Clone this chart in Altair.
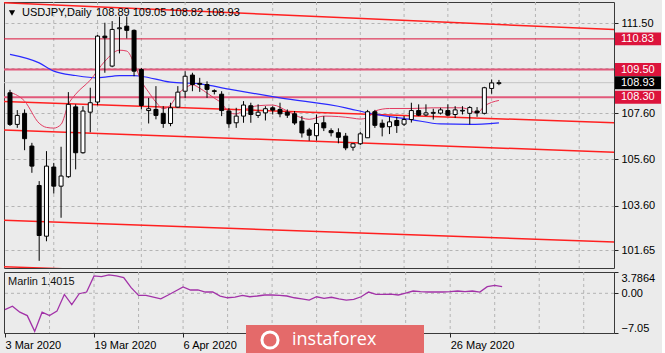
import altair as alt
import pandas as pd

# ---------------- data ----------------
BARS = list(range(68))
OPEN = [108.49,107.12,107.60,106.18,104.47,102.27,105.27,104.44,104.85,107.88,
        105.89,107.65,108.09,110.95,109.65,111.27,111.38,111.20,109.50,107.72,
        107.77,107.60,107.16,107.87,108.56,109.26,108.90,108.85,108.58,108.43,
        107.70,107.19,107.48,107.93,107.51,107.62,107.84,107.77,107.65,107.58,
        107.26,106.88,106.63,107.19,106.85,106.76,106.61,106.13,106.28,106.54,
        107.67,107.17,107.02,107.29,107.13,107.33,107.72,107.53,107.60,107.61,
        107.72,107.55,107.70,107.60,107.70,107.60,108.68,108.89]
HIGH = [108.62,107.74,107.77,106.32,104.66,105.96,105.45,106.15,108.52,107.99,
        107.91,108.71,111.00,111.53,111.60,111.80,111.80,111.24,109.57,108.27,
        108.78,107.91,108.06,108.78,109.43,109.36,109.14,108.99,108.64,108.56,
        107.84,107.84,108.13,108.06,107.99,107.91,107.91,108.06,107.77,107.70,
        107.48,106.97,107.55,107.48,106.95,106.95,106.75,106.30,106.80,107.75,
        107.75,107.33,107.45,107.45,107.48,108.06,107.99,107.99,107.80,107.84,
        107.99,107.91,107.91,107.91,107.87,108.75,109.07,109.05]
LOW = [107.05,106.97,106.00,105.02,101.20,102.05,104.12,103.07,104.80,105.17,
       105.85,106.78,107.95,109.36,109.60,110.20,110.85,109.21,107.77,107.16,
       107.34,106.97,107.04,107.84,108.27,108.56,108.53,108.27,108.42,107.48,
       106.97,106.97,107.19,107.19,107.40,107.29,107.55,107.43,107.40,107.10,
       106.55,106.41,106.42,106.83,106.60,106.30,106.00,105.98,106.22,106.54,
       106.97,106.60,106.70,106.75,107.05,107.20,107.48,107.48,107.33,107.55,
       107.48,107.40,107.55,107.12,107.45,107.55,108.45,108.82]
CLOSE = [107.12,107.51,106.50,105.31,102.30,105.31,104.44,104.88,107.99,105.89,
         107.70,108.06,110.95,110.88,111.24,111.31,111.20,109.43,107.94,107.80,
         107.51,107.16,107.84,108.52,109.21,108.85,108.86,108.64,108.55,107.72,
         107.15,107.48,107.96,107.55,107.65,107.80,107.74,107.58,107.52,107.18,
         106.75,106.65,107.16,106.97,106.76,106.56,106.10,106.28,106.71,107.67,
         107.08,107.00,107.23,107.07,107.33,107.72,107.52,107.62,107.64,107.75,
         107.52,107.75,107.73,107.85,107.62,108.71,108.92,108.93]

BLUE_BARS = [0, 4, 6, 9, 12, 15, 17, 18, 22, 26, 30, 37, 46, 49, 55, 59, 63, 67]
BLUE_VALS = [110.16, 109.79, 109.43, 109.24, 109.14, 109.24, 109.24, 109.21, 108.95,
             108.88, 108.65, 108.27, 107.84, 107.62, 107.33, 107.14, 107.12, 107.19]

PINK_BARS = [0, 2, 4, 5, 6, 7, 8, 9, 11, 13, 15, 16, 17, 18, 19, 20, 21, 22, 23, 24,
             25, 26, 27, 28, 29, 30, 31, 32, 34, 36, 38, 40, 41, 43, 45, 47, 48, 49, 50, 52,
             55, 58, 62, 64, 65, 67]
PINK_VALS = [108.52, 108.13, 107.17, 106.99, 106.96, 107.12, 107.99, 108.43, 109.04, 109.86,
             110.34, 110.30, 109.78, 109.00, 108.52, 108.09, 107.80, 107.96, 108.43, 108.69,
             108.84, 108.69, 108.48, 108.26, 108.04, 107.65, 107.57, 107.74, 107.93, 107.96,
             107.70, 107.40, 107.34, 107.48, 107.46, 107.39, 107.35, 107.41, 107.70, 107.81,
             107.81, 107.84, 107.84, 107.62, 107.91, 108.16]

# channel / trend lines: id, bar, price (two end points each)
CH_ID = [1, 1, 2, 2, 3, 3, 4, 4, 5, 5]
CH_BAR = [-1, 83, -1, 83, -1, 83, -1, 83, -1, 83]
CH_PRICE = [112.40, 111.23, 108.11, 107.19, 106.88, 105.91, 102.96, 102.02, 100.95, 100.00]

MARLIN = [-2.89, -2.28, -3.35, -3.96, -6.76, -3.35, -3.96, -3.17, -0.20, -1.99,
          -0.07, 0.23, 3.10, 2.97, 3.28, 3.10, 2.80, 1.00, -0.38, -0.38,
          -0.66, -0.97, -0.30, 0.41, 1.13, 0.59, 0.59, 0.23, 0.23, -0.48,
          -0.79, -0.66, -0.38, -0.61, -0.48, -0.30, -0.30, -0.38, -0.48, -0.79,
          -0.97, -1.20, -0.61, -0.91, -0.70, -0.97, -1.20, -1.06, -0.61, 0.23,
          -0.20, -0.20, -0.16, -0.30, 0.02, 0.41, 0.29, 0.23, 0.23, 0.23,
          0.29, 0.41, 0.29, 0.41, 0.23, 1.18, 1.42, 1.18]

# only the date labels that are visible in the reference (the others sit under the logo)
TICK_BARS = [0, 12, 24, 60]
TICK_LABELS = ["3 Mar 2020", "19 Mar 2020", "6 Apr 2020", "26 May 2020"]
GRID_BARS = [6, 12, 18, 24, 30, 36, 42, 48, 54, 60, 66, 72, 78]
PRICE_TICKS = [111.50, 109.55, 107.60, 105.60, 103.60, 101.65]
MARLIN_TICKS = [3.7864, 0.0, -7.05]
LEVELS = [110.83, 109.50, 108.30]
BID = 108.93
HEADER = "USDJPY,Daily"
OHLC_TEXT = "108.89 109.05 108.82 108.93"
MARLIN_LABEL = "Marlin 1.4015"
BRAND = "instaforex"

# ---------------- styling ----------------
FONT = "Liberation Sans"
BG = "#ebebeb"
W, H_MAIN, H_SUB = 610, 266, 61
GRID = "#b4b4b4"

XS = alt.Scale(domain=[-0.135, 82.08], nice=False, zero=False)
YS = alt.Scale(domain=[100.89, 112.43], nice=False, zero=False)
MS = alt.Scale(domain=[-7.05, 3.7864], nice=False, zero=False)

YAX = alt.Axis(orient="right", values=PRICE_TICKS,
               labelExpr="datum.value == 109.55 ? '' : format(datum.value, '.2f')",
               title=None, grid=True, gridDash=[3, 3], gridColor=GRID, gridWidth=1,
               domain=False, tickSize=4, tickColor="#222222", labelPadding=3,
               labelFont=FONT, labelFontSize=11, labelColor="#000000")

MAX = alt.Axis(orient="right", values=MARLIN_TICKS,
               labelExpr="datum.value == 0 ? '0.00' : (datum.value < 0 ? format(datum.value, '.2f') : format(datum.value, '.4f'))",
               labelBaseline={"condition": [{"test": "datum.value > 1", "value": "top"},
                                            {"test": "datum.value < -1", "value": "bottom"}],
                              "value": "middle"},
               title=None, grid=False, domain=False, tickSize=4, tickColor="#222222",
               labelPadding=3, labelFont=FONT, labelFontSize=11, labelColor="#000000")

label_expr = "%s[indexof(%s, datum.value)]" % (repr(TICK_LABELS), repr(TICK_BARS))
XAX = alt.Axis(values=TICK_BARS, labelExpr=label_expr, labelAlign="left",
               labelBaseline="top", tickSize=4, labelPadding=2, domain=False,
               grid=False, labelFont=FONT, labelFontSize=11, labelColor="#000000",
               tickColor="#222222", title=None, labelFlush=False, labelOverlap=False,
               labelBound=False)


def xq(f):
    return alt.X(f"{f}:Q", scale=XS, axis=None)


def yq(f):
    return alt.Y(f"{f}:Q", scale=YS, axis=YAX)


def one(t=""):
    return pd.DataFrame({"t": [t]})


cdf = pd.DataFrame({"bar": BARS, "o": OPEN, "h": HIGH, "l": LOW, "c": CLOSE})
blue_df = pd.DataFrame({"bar": BLUE_BARS, "v": BLUE_VALS})
pink_df = pd.DataFrame({"bar": PINK_BARS, "v": PINK_VALS})
ch_df = pd.DataFrame({"id": CH_ID, "bar": CH_BAR, "p": CH_PRICE})
lev_df = pd.DataFrame({"p": LEVELS})
box_df = pd.DataFrame({"p": LEVELS + [BID]})
grid_df = pd.DataFrame({"bar": GRID_BARS})
m_df = pd.DataFrame({"bar": BARS, "m": MARLIN})

# ---------------- main price panel ----------------
vgrid = alt.Chart(grid_df).mark_rule(color=GRID, strokeDash=[3, 3], strokeWidth=1).encode(x=xq("bar"))
hgrid_axis = alt.Chart(pd.DataFrame({"p": PRICE_TICKS})).mark_rule(opacity=0).encode(y=yq("p"))
bid_line = alt.Chart(pd.DataFrame({"p": [BID]})).mark_rule(color="#c4c4c4", strokeWidth=1).encode(y=yq("p"))
lev_top = alt.Chart(lev_df).transform_filter("datum.p > 110").mark_rule(
    color="#dc143c", strokeWidth=1).encode(y=yq("p"))
lev_low = alt.Chart(lev_df).transform_filter("datum.p < 110").mark_rule(
    color="#e2587a", strokeWidth=2).encode(y=yq("p"))
channels = alt.Chart(ch_df).mark_line(color="#ff2020", strokeWidth=1.5, clip=True).encode(
    x=xq("bar"), y=yq("p"), detail="id:N")
blue = alt.Chart(blue_df).mark_line(color="#2a2aff", strokeWidth=1.2, interpolate="monotone",
                                    clip=True).encode(x=xq("bar"), y=yq("v"))
pink = alt.Chart(pink_df).mark_line(color="#e23c62", strokeWidth=1, interpolate="monotone",
                                    clip=True).encode(x=xq("bar"), y=yq("v"))
wick = alt.Chart(cdf).mark_rule(color="#000000", strokeWidth=1, clip=True).encode(
    x=xq("bar"), y=yq("l"), y2="h:Q")
body = alt.Chart(cdf).mark_bar(size=4, stroke="#000000", strokeWidth=1, clip=True).encode(
    x=xq("bar"), y=yq("o"), y2="c:Q",
    fill=alt.condition("datum.c >= datum.o", alt.value("#ffffff"), alt.value("#000000")))
boxes = alt.Chart(box_df).transform_calculate(
    lo="datum.p - 0.28", hi="datum.p + 0.28").mark_rect().encode(
    x=alt.value(W + 1), x2=alt.value(W + 47), y=yq("lo"), y2="hi:Q",
    fill=alt.condition(f"datum.p == {BID}", alt.value("#000000"), alt.value("#dc143c")))
box_text = alt.Chart(box_df).transform_calculate(txt="format(datum.p, '.2f')").mark_text(
    align="left", baseline="middle", font=FONT, fontSize=11, color="#ffffff").encode(
    x=alt.value(W + 7), y=yq("p"), text="txt:N")
tri = alt.Chart(one()).mark_point(shape="triangle-down", filled=True, size=38, color="#000000",
                                  opacity=1).encode(x=alt.value(8), y=alt.value(11))
head1 = alt.Chart(one(HEADER)).mark_text(align="left", baseline="middle", font=FONT, fontSize=11,
                                         color="#000000").encode(x=alt.value(18), y=alt.value(11), text="t:N")
head2 = alt.Chart(one(OHLC_TEXT)).mark_text(align="left", baseline="middle", font=FONT, fontSize=11,
                                            color="#000000").encode(x=alt.value(92), y=alt.value(11), text="t:N")

main = alt.layer(hgrid_axis, vgrid, bid_line, lev_top, lev_low, channels, blue, pink,
                 wick, body, boxes, box_text, tri, head1, head2).properties(width=W, height=H_MAIN)

# ---------------- Marlin sub panel ----------------
sx = alt.X("bar:Q", scale=XS, axis=XAX)
sy = lambda f: alt.Y(f"{f}:Q", scale=MS, axis=MAX)
s_vgrid = alt.Chart(grid_df).mark_rule(color=GRID, strokeDash=[3, 3], strokeWidth=1).encode(x=sx)
s_ticks = alt.Chart(pd.DataFrame({"bar": TICK_BARS})).mark_rule(opacity=0).encode(x=sx)
s_zero = alt.Chart(pd.DataFrame({"m": [0.0]})).mark_rule(color=GRID, strokeDash=[3, 3],
                                                       strokeWidth=1).encode(y=sy("m"))
s_line = alt.Chart(m_df).mark_line(color="#a232a8", strokeWidth=1.3, clip=True).encode(x=sx, y=sy("m"))
s_label = alt.Chart(one(MARLIN_LABEL)).mark_text(align="left", baseline="middle", font=FONT,
                                                 fontSize=11, color="#111111").encode(
    x=alt.value(4), y=alt.value(10), text="t:N")
wm_rect = alt.Chart(one()).mark_rect(color="#e46a6a", opacity=1).encode(
    x=alt.value(242), x2=alt.value(420), y=alt.value(53), y2=alt.value(83))
wm_icon = alt.Chart(one()).mark_point(shape="circle", filled=False, size=260, color="#ffffff",
                                      strokeWidth=3, opacity=1).encode(
    x=alt.value(266), y=alt.value(68))
wm_text = alt.Chart(one(BRAND)).mark_text(align="left", baseline="middle", font="Open Sans",
                                          fontSize=18, color="#ffffff").encode(
    x=alt.value(288), y=alt.value(68), text="t:N")

sub = alt.layer(s_ticks, s_vgrid, s_zero, s_line, s_label, wm_rect, wm_icon, wm_text).properties(
    width=W, height=H_SUB)

chart = alt.vconcat(main, sub, spacing=2).properties(
    padding={"left": 2, "top": 1, "right": 0, "bottom": 0}
).configure(font=FONT, background=BG).configure_view(stroke="#3a3a3a", strokeWidth=1, fill=BG)

chart.save("out.html", embed_options={"renderer": "svg", "actions": False})
